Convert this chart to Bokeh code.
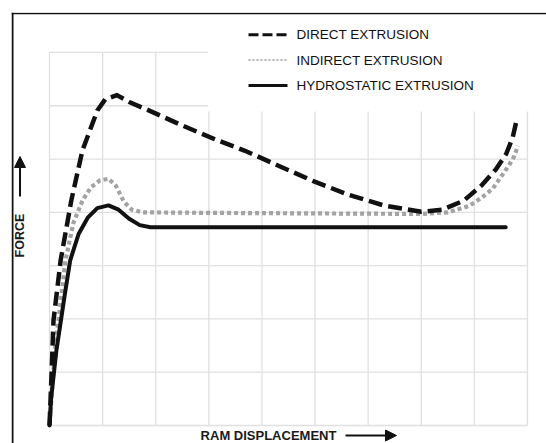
import numpy as np
from bokeh.plotting import figure
from bokeh.models import Range1d, Arrow, NormalHead, Span
from bokeh.core.properties import value
from bokeh.embed import file_html
from bokeh.resources import INLINE

# ---- data (grid units: columns along displacement, rows along force) ----
grid_x = [0, 1, 2, 3, 4, 5, 6, 7, 8, 9]
grid_y = [0, 1, 2, 3, 4, 5, 6, 7]

direct_x = [0.0, 0.04, 0.075, 0.21, 0.41, 0.62, 0.9, 1.05, 1.27, 1.5, 1.9, 2.5, 3.14, 3.67,
            4.3, 4.98, 5.63, 6.29, 7.0, 7.4, 7.8, 8.13, 8.4, 8.6, 8.72, 8.8]
direct_y = [0.0, 1.0, 1.97, 3.1, 4.22, 5.16, 5.91, 6.12, 6.2, 6.07, 5.9, 5.63, 5.36, 5.16,
            4.88, 4.58, 4.33, 4.13, 4.01, 4.05, 4.22, 4.5, 4.8, 5.1, 5.4, 5.75]

indirect_x = [0.0, 0.1, 0.3, 0.45, 0.62, 0.78, 0.95, 1.11, 1.25, 1.4, 1.55, 1.75, 3.0, 5.0,
              7.0, 7.5, 7.9, 8.13, 8.35, 8.51, 8.65, 8.75, 8.82]
indirect_y = [0.0, 1.4, 3.1, 3.8, 4.22, 4.47, 4.6, 4.63, 4.5, 4.2, 4.05, 4.0, 3.99, 3.98,
              3.97, 4.0, 4.12, 4.27, 4.45, 4.68, 4.88, 5.05, 5.25]

hydro_x = [0.0, 0.03, 0.13, 0.29, 0.39, 0.55, 0.72, 0.9, 1.11, 1.3, 1.5, 1.7, 1.9, 5.0, 8.59]
hydro_y = [0.0, 0.5, 1.41, 2.47, 3.1, 3.6, 3.9, 4.08, 4.13, 4.05, 3.88, 3.76, 3.72, 3.72, 3.72]

series_labels = ["DIRECT  EXTRUSION", "INDIRECT  EXTRUSION", "HYDROSTATIC EXTRUSION"]
x_label = "RAM DISPLACEMENT"
y_label = "FORCE"

# ---- layout helpers (picture pixel -> grid units) ----
X0, XS = 49.0, 53.11
Y0, YS = 425.0, 53.29


def px_x(px):
    return (px - X0) / XS


def px_y(py):
    return (Y0 - py) / YS


W, H = 546, 443
p = figure(width=W, height=H, output_backend="svg", toolbar_location=None,
           x_range=Range1d(px_x(11), px_x(W)), y_range=Range1d(px_y(H), px_y(12)),
           min_border_left=11, min_border_top=12, min_border_right=0, min_border_bottom=0,
           x_axis_location=None, y_axis_location=None)
p.grid.visible = False
p.outline_line_color = None
p.background_fill_color = "white"
p.border_fill_color = "white"

# grid
gcol = "#e0e0e0"
p.segment(x0=grid_x, y0=[grid_y[0]] * len(grid_x), x1=grid_x, y1=[grid_y[-1]] * len(grid_x),
          line_color=gcol, line_width=1.3)
p.segment(x0=[grid_x[0]] * len(grid_y), y0=grid_y, x1=[grid_x[-1]] * len(grid_y), y1=grid_y,
          line_color=gcol, line_width=1.3)

# white legend area masking the grid
p.quad(left=px_x(207.5), right=px_x(550), bottom=px_y(111), top=px_y(10),
       fill_color="white", line_color=None)

# border (top / left)
p.add_layout(Span(location=px_x(12), dimension="height", line_color="#111111", line_width=2))
p.add_layout(Span(location=px_y(13), dimension="width", line_color="#111111", line_width=1.5))

# curves
p.line(indirect_x, indirect_y, line_color="#a3a3a3", line_width=4.2, line_dash="4 3",
       line_cap="butt", line_join="round")
p.line(hydro_x, hydro_y, line_color="#111111", line_width=4, line_join="round", line_cap="round")
p.line(direct_x, direct_y, line_color="#111111", line_width=4.5, line_dash="14 6",
       line_join="round", line_cap="butt")

# legend
lx0, lx1 = px_x(248), px_x(287)
ly = [px_y(34.3), px_y(59.5), px_y(85)]
p.segment(x0=[lx0], y0=[ly[0]], x1=[lx1], y1=[ly[0]], line_color="#111111", line_width=3,
          line_dash="10 4")
p.segment(x0=[lx0], y0=[ly[1]], x1=[lx1], y1=[ly[1]], line_color="#9a9a9a", line_width=1.5,
          line_dash="2 2")
p.segment(x0=[lx0], y0=[ly[2]], x1=[lx1], y1=[ly[2]], line_color="#111111", line_width=3)
p.text(x=[px_x(296)] * 3, y=ly, text=series_labels, text_font=value("Liberation Sans"),
       text_font_size="13.5px", text_baseline="middle", text_align="left", text_color="#111111")

# axis labels with arrows
p.text(x=[px_x(19.5)], y=[px_y(235)], text=[y_label], angle=np.pi / 2,
       text_font=value("Liberation Sans"), text_font_size="12.5px", text_font_style="bold",
       text_align="center", text_baseline="middle", text_color="#1a1a1a")
p.add_layout(Arrow(x_start=px_x(19.5), y_start=px_y(196), x_end=px_x(19.5), y_end=px_y(156),
                   line_width=2, line_color="#111111",
                   end=NormalHead(size=11, fill_color="#111111", line_color="#111111")))

p.text(x=[px_x(268)], y=[px_y(434.5)], text=[x_label],
       text_font=value("Liberation Sans"), text_font_size="13px", text_font_style="bold",
       text_align="center", text_baseline="middle", text_color="#1a1a1a")
p.add_layout(Arrow(x_start=px_x(345), y_start=px_y(435), x_end=px_x(396), y_end=px_y(435),
                   line_width=2, line_color="#111111",
                   end=NormalHead(size=11, fill_color="#111111", line_color="#111111")))

open("out.html", "w").write(file_html(p, INLINE))
